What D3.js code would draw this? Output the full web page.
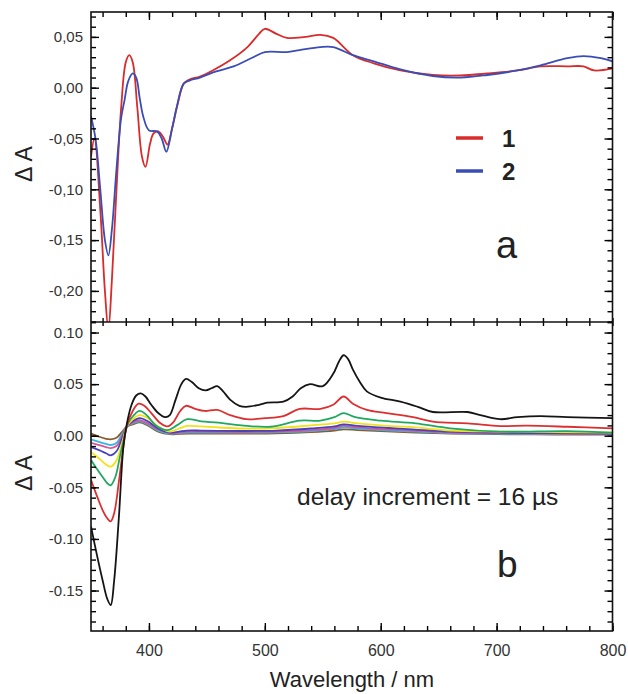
<!DOCTYPE html>
<html>
<head>
<meta charset="utf-8">
<script src="https://cdn.jsdelivr.net/npm/d3@7"></script>
<style>
  body { margin: 0; background: #fff; }
  svg { font-family: "Liberation Sans", Arial, sans-serif; }
  .tick text { fill: #333; font-size: 15px; }
  .axis path.domain { display: none; }
  .axis line { stroke: #000; stroke-width: 1.4; }
</style>
</head>
<body>
<div id="chart"></div>
<script>
// ---- panel a: compounds 1 and 2 ----
const aWl1 = [350, 353, 358, 362, 365, 368, 372, 376, 380, 383, 386, 390, 394, 397, 401, 404, 408, 412, 416, 420, 425, 430, 435, 444, 455, 470, 485, 495, 500, 510, 519, 535, 548, 559, 576, 594, 617, 645, 669, 692, 718, 738, 761, 775, 784, 800];
const aVal1 = [-0.068, -0.05, -0.12, -0.2, -0.238, -0.19, -0.1, -0.02, 0.025, 0.032, 0.025, -0.02, -0.068, -0.078, -0.055, -0.045, -0.043, -0.048, -0.056, -0.04, -0.015, 0.004, 0.008, 0.011, 0.017, 0.027, 0.04, 0.053, 0.058, 0.053, 0.049, 0.05, 0.052, 0.049, 0.032, 0.024, 0.017, 0.0125, 0.012, 0.014, 0.017, 0.021, 0.021, 0.021, 0.017, 0.019];
const aWl2 = [350, 354, 358, 362, 365, 368, 372, 376, 379, 382, 386, 389, 392, 395, 400, 407, 411, 415, 420, 424, 430, 435, 444, 458, 473, 490, 500, 519, 530, 548, 559, 576, 594, 617, 645, 669, 692, 718, 738, 761, 775, 790, 800];
const aVal2 = [-0.028, -0.051, -0.1, -0.15, -0.165, -0.14, -0.08, -0.03, -0.012, 0.006, 0.014, 0.01, -0.01, -0.028, -0.042, -0.043, -0.05, -0.063, -0.04, -0.019, 0.004, 0.007, 0.01, 0.016, 0.021, 0.03, 0.035, 0.035, 0.037, 0.04, 0.04, 0.032, 0.026, 0.018, 0.0115, 0.01, 0.0125, 0.017, 0.022, 0.029, 0.031, 0.029, 0.026];
const legendLabels = ["1", "2"];

// ---- panel b: spectra at increasing delay ----
const bWlBlack = [350, 355, 360, 364, 367, 370, 374, 378, 381, 385, 389, 393, 397, 402, 408, 414, 418, 423, 428, 432, 437, 443, 449, 454, 459, 464, 470, 478, 484, 495, 502, 516, 524, 531, 539, 550, 559, 564, 568, 572, 576, 582, 588, 600, 617, 632, 645, 675, 686, 703, 718, 738, 761, 800];
const bValBlack = [-0.088, -0.115, -0.14, -0.158, -0.164, -0.14, -0.08, -0.01, 0.012, 0.03, 0.039, 0.041, 0.038, 0.03, 0.022, 0.018, 0.02, 0.035, 0.05, 0.055, 0.052, 0.046, 0.044, 0.046, 0.048, 0.043, 0.035, 0.029, 0.028, 0.03, 0.032, 0.033, 0.038, 0.046, 0.05, 0.048, 0.06, 0.072, 0.078, 0.074, 0.064, 0.052, 0.043, 0.037, 0.033, 0.028, 0.023, 0.023, 0.02, 0.016, 0.018, 0.019, 0.018, 0.017];
const bWlRed = [350, 355, 360, 364, 367, 370, 374, 378, 381, 386, 391, 396, 402, 410, 416, 421, 427, 432, 440, 448, 459, 470, 484, 500, 516, 530, 548, 559, 568, 576, 588, 605, 628, 645, 675, 703, 726, 761, 800];
const bValRed = [-0.043, -0.058, -0.072, -0.08, -0.083, -0.075, -0.045, -0.01, 0.01, 0.024, 0.031, 0.029, 0.022, 0.012, 0.009, 0.013, 0.024, 0.029, 0.026, 0.024, 0.025, 0.02, 0.016, 0.017, 0.019, 0.026, 0.026, 0.03, 0.038, 0.031, 0.025, 0.022, 0.018, 0.0136, 0.012, 0.0094, 0.0097, 0.0087, 0.0072];
const bWlGreen = [350, 355, 360, 364, 367, 371, 375, 379, 382, 387, 392, 398, 406, 416, 424, 433, 445, 460, 480, 505, 530, 548, 560, 568, 578, 600, 630, 660, 703, 761, 800];
const bValGreen = [-0.0235, -0.032, -0.04, -0.046, -0.048, -0.04, -0.02, 0, 0.012, 0.02, 0.024, 0.02, 0.01, 0.0055, 0.01, 0.016, 0.014, 0.0126, 0.01, 0.0087, 0.0146, 0.0146, 0.018, 0.022, 0.018, 0.0146, 0.012, 0.0072, 0.004, 0.0045, 0.003];
// weaker, later spectra share one wavelength grid
const bWlLate = [350, 357, 363, 367, 372, 377, 381, 386, 392, 399, 408, 418, 426, 433, 445, 460, 480, 510, 540, 560, 568, 580, 600, 630, 660, 700, 750, 800];
const bValYellow = [-0.016, -0.022, -0.028, -0.03, -0.024, -0.006, 0.009, 0.016, 0.02, 0.017, 0.009, 0.004, 0.007, 0.0095, 0.009, 0.008, 0.007, 0.0075, 0.01, 0.012, 0.0136, 0.012, 0.01, 0.008, 0.005, 0.004, 0.0035, 0.003];
const bValBlue = [-0.011, -0.014, -0.017, -0.019, -0.015, -0.002, 0.009, 0.014, 0.017, 0.014, 0.007, 0.003, 0.004, 0.005, 0.005, 0.0048, 0.0046, 0.005, 0.007, 0.009, 0.011, 0.0095, 0.008, 0.006, 0.004, 0.003, 0.0025, 0.002];
const bValPink = [-0.0068, -0.009, -0.011, -0.012, -0.01, 0, 0.009, 0.013, 0.015, 0.012, 0.006, 0.0025, 0.003, 0.004, 0.004, 0.0038, 0.0036, 0.004, 0.0055, 0.0075, 0.0095, 0.008, 0.0065, 0.005, 0.003, 0.0025, 0.002, 0.0018];
const bValCyan = [-0.0035, -0.006, -0.008, -0.009, -0.007, 0.002, 0.009, 0.012, 0.014, 0.011, 0.005, 0.002, 0.0025, 0.003, 0.003, 0.003, 0.003, 0.0032, 0.0045, 0.0065, 0.008, 0.007, 0.0055, 0.004, 0.0025, 0.002, 0.0015, 0.0015];
const bValBrown = [0.002, -0.001, -0.003, -0.0035, -0.002, 0.004, 0.009, 0.011, 0.013, 0.01, 0.004, 0.0015, 0.0018, 0.002, 0.002, 0.002, 0.002, 0.0023, 0.0035, 0.005, 0.0062, 0.0055, 0.0045, 0.003, 0.002, 0.0015, 0.0012, 0.0012];

const xTicks = [400, 500, 600, 700, 800];
const annotation = "delay increment = 16 \u00b5s";

const W = 628, H = 694;
const frame = { left: 91, right: 612.5, top: 12, mid: 322, bottom: 631 };

const svg = d3.select("#chart").append("svg").attr("width", W).attr("height", H);

const x = d3.scaleLinear().domain([350, 800]).range([frame.left, frame.right]);
const yA = d3.scaleLinear().domain([-0.2306, 0.0745]).range([frame.mid, frame.top]);
const yB = d3.scaleLinear().domain([-0.1892, 0.1102]).range([frame.bottom, frame.mid]);

// comma decimals on panel a, points on panel b, plain hyphen minus
const fmtComma = d3.formatLocale({ decimal: ",", thousands: ".", grouping: [3], currency: ["", ""], minus: "-" }).format(".2f");
const fmtPoint = d3.formatLocale({ decimal: ".", thousands: ",", grouping: [3], currency: ["", ""], minus: "-" }).format(".2f");

const zip = (xs, ys) => xs.map((v, i) => [v, ys[i]]);

function drawPanel(id, y, top, bottom, series, fmt, majors, minors) {
  const g = svg.append("g");

  g.append("clipPath").attr("id", id)
    .append("rect")
    .attr("x", frame.left).attr("y", top)
    .attr("width", frame.right - frame.left).attr("height", bottom - top);

  const line = d3.line()
    .x((d) => x(d[0]))
    .y((d) => y(d[1]))
    .curve(d3.curveCatmullRom.alpha(0.5));

  g.append("g").attr("clip-path", `url(#${id})`)
    .selectAll("path")
    .data(series)
    .join("path")
    .attr("d", (s) => line(s.points))
    .attr("fill", "none")
    .attr("stroke", (s) => s.color)
    .attr("stroke-width", 1.8)
    .attr("stroke-linejoin", "round");

  // left axis: minor ticks, then labelled majors
  g.append("g").attr("class", "axis")
    .attr("transform", `translate(${frame.left},0)`)
    .call(d3.axisLeft(y).tickValues(minors).tickSize(-5).tickFormat(""));
  g.append("g").attr("class", "axis")
    .attr("transform", `translate(${frame.left},0)`)
    .call(d3.axisLeft(y).tickValues(majors).tickSize(-8).tickPadding(8).tickFormat(fmt));

  // right axis, ticks inward
  g.append("g").attr("class", "axis")
    .attr("transform", `translate(${frame.right},0)`)
    .call(d3.axisRight(y).tickValues(minors).tickSize(-5).tickFormat(""));
  g.append("g").attr("class", "axis")
    .attr("transform", `translate(${frame.right},0)`)
    .call(d3.axisRight(y).tickValues(majors).tickSize(-8).tickFormat(""));

  return g;
}

const minorX = d3.range(360, 801, 20);

// ---- panel a ----
const gA = drawPanel("clipA", yA, frame.top, frame.mid, [
  { color: "#d92b2b", points: zip(aWl1, aVal1) },
  { color: "#3a4db5", points: zip(aWl2, aVal2) },
], fmtComma, d3.range(-20, 6, 5).map((i) => i / 100), d3.range(-23, 8).map((i) => i / 100));

gA.append("g").attr("class", "axis")
  .attr("transform", `translate(0,${frame.top})`)
  .call(d3.axisTop(x).tickValues(minorX).tickSize(-5).tickFormat(""));
gA.append("g").attr("class", "axis")
  .attr("transform", `translate(0,${frame.top})`)
  .call(d3.axisTop(x).tickValues(xTicks).tickSize(-8).tickFormat(""));

// legend
const legend = gA.append("g");
const legendColors = ["#d92b2b", "#3a4db5"];
legendLabels.forEach((lab, i) => {
  const ly = 138 + i * 33;
  legend.append("line")
    .attr("x1", 456).attr("x2", 483).attr("y1", ly).attr("y2", ly)
    .attr("stroke", legendColors[i]).attr("stroke-width", 3.5);
  legend.append("text")
    .attr("x", 502).attr("y", ly + 8.5)
    .attr("font-size", 24).attr("font-weight", "bold").attr("fill", "#222")
    .text(lab);
});

gA.append("text").attr("x", 496).attr("y", 258)
  .attr("font-size", 38).attr("fill", "#222").text("a");

// ---- panel b ----
const gB = drawPanel("clipB", yB, frame.mid, frame.bottom, [
  { color: "#8b5a2b", points: zip(bWlLate, bValBrown) },
  { color: "#38b4e0", points: zip(bWlLate, bValCyan) },
  { color: "#d0589a", points: zip(bWlLate, bValPink) },
  { color: "#4a40b8", points: zip(bWlLate, bValBlue) },
  { color: "#f2e21a", points: zip(bWlLate, bValYellow) },
  { color: "#20a860", points: zip(bWlGreen, bValGreen) },
  { color: "#dc3030", points: zip(bWlRed, bValRed) },
  { color: "#151515", points: zip(bWlBlack, bValBlack) },
], fmtPoint, d3.range(-15, 11, 5).map((i) => i / 100), d3.range(-18, 12).map((i) => i / 100));

// shared edge between the panels: ticks cross the line
gB.append("g").attr("class", "axis")
  .attr("transform", `translate(0,${frame.mid})`)
  .call(d3.axisTop(x).tickValues(minorX).tickSize(4).tickFormat(""));
gB.append("g").attr("class", "axis")
  .attr("transform", `translate(0,${frame.mid})`)
  .call(d3.axisBottom(x).tickValues(minorX).tickSize(4).tickFormat(""));

gB.append("g").attr("class", "axis")
  .attr("transform", `translate(0,${frame.bottom})`)
  .call(d3.axisBottom(x).tickValues(minorX).tickSize(-5).tickFormat(""));
gB.append("g").attr("class", "axis x-labels")
  .attr("transform", `translate(0,${frame.bottom})`)
  .call(d3.axisBottom(x).tickValues(xTicks).tickSize(-8).tickPadding(14).tickFormat(d3.format("d")));
gB.selectAll(".x-labels .tick text").style("font-size", "16px");

gB.append("text").attr("x", 297).attr("y", 505)
  .attr("font-size", 24.5).attr("fill", "#222").text(annotation);
gB.append("text").attr("x", 497).attr("y", 577)
  .attr("font-size", 37).attr("fill", "#222").text("b");

// frames drawn last so the lines sit under the border
svg.append("rect")
  .attr("x", frame.left).attr("y", frame.top)
  .attr("width", frame.right - frame.left).attr("height", frame.bottom - frame.top)
  .attr("fill", "none").attr("stroke", "#111").attr("stroke-width", 1.6);
svg.append("line")
  .attr("x1", frame.left).attr("x2", frame.right)
  .attr("y1", frame.mid).attr("y2", frame.mid)
  .attr("stroke", "#111").attr("stroke-width", 1.6);

// axis titles
[[164, "\u0394 A"], [473, "\u0394 A"]].forEach(([cy, t]) => {
  svg.append("text")
    .attr("transform", `translate(32,${cy}) rotate(-90)`)
    .attr("text-anchor", "middle")
    .attr("font-size", 23).attr("fill", "#222")
    .text(t);
});
svg.append("text").attr("x", 352).attr("y", 687)
  .attr("text-anchor", "middle").attr("font-size", 22).attr("fill", "#222")
  .text("Wavelength / nm");
</script>
</body>
</html>
